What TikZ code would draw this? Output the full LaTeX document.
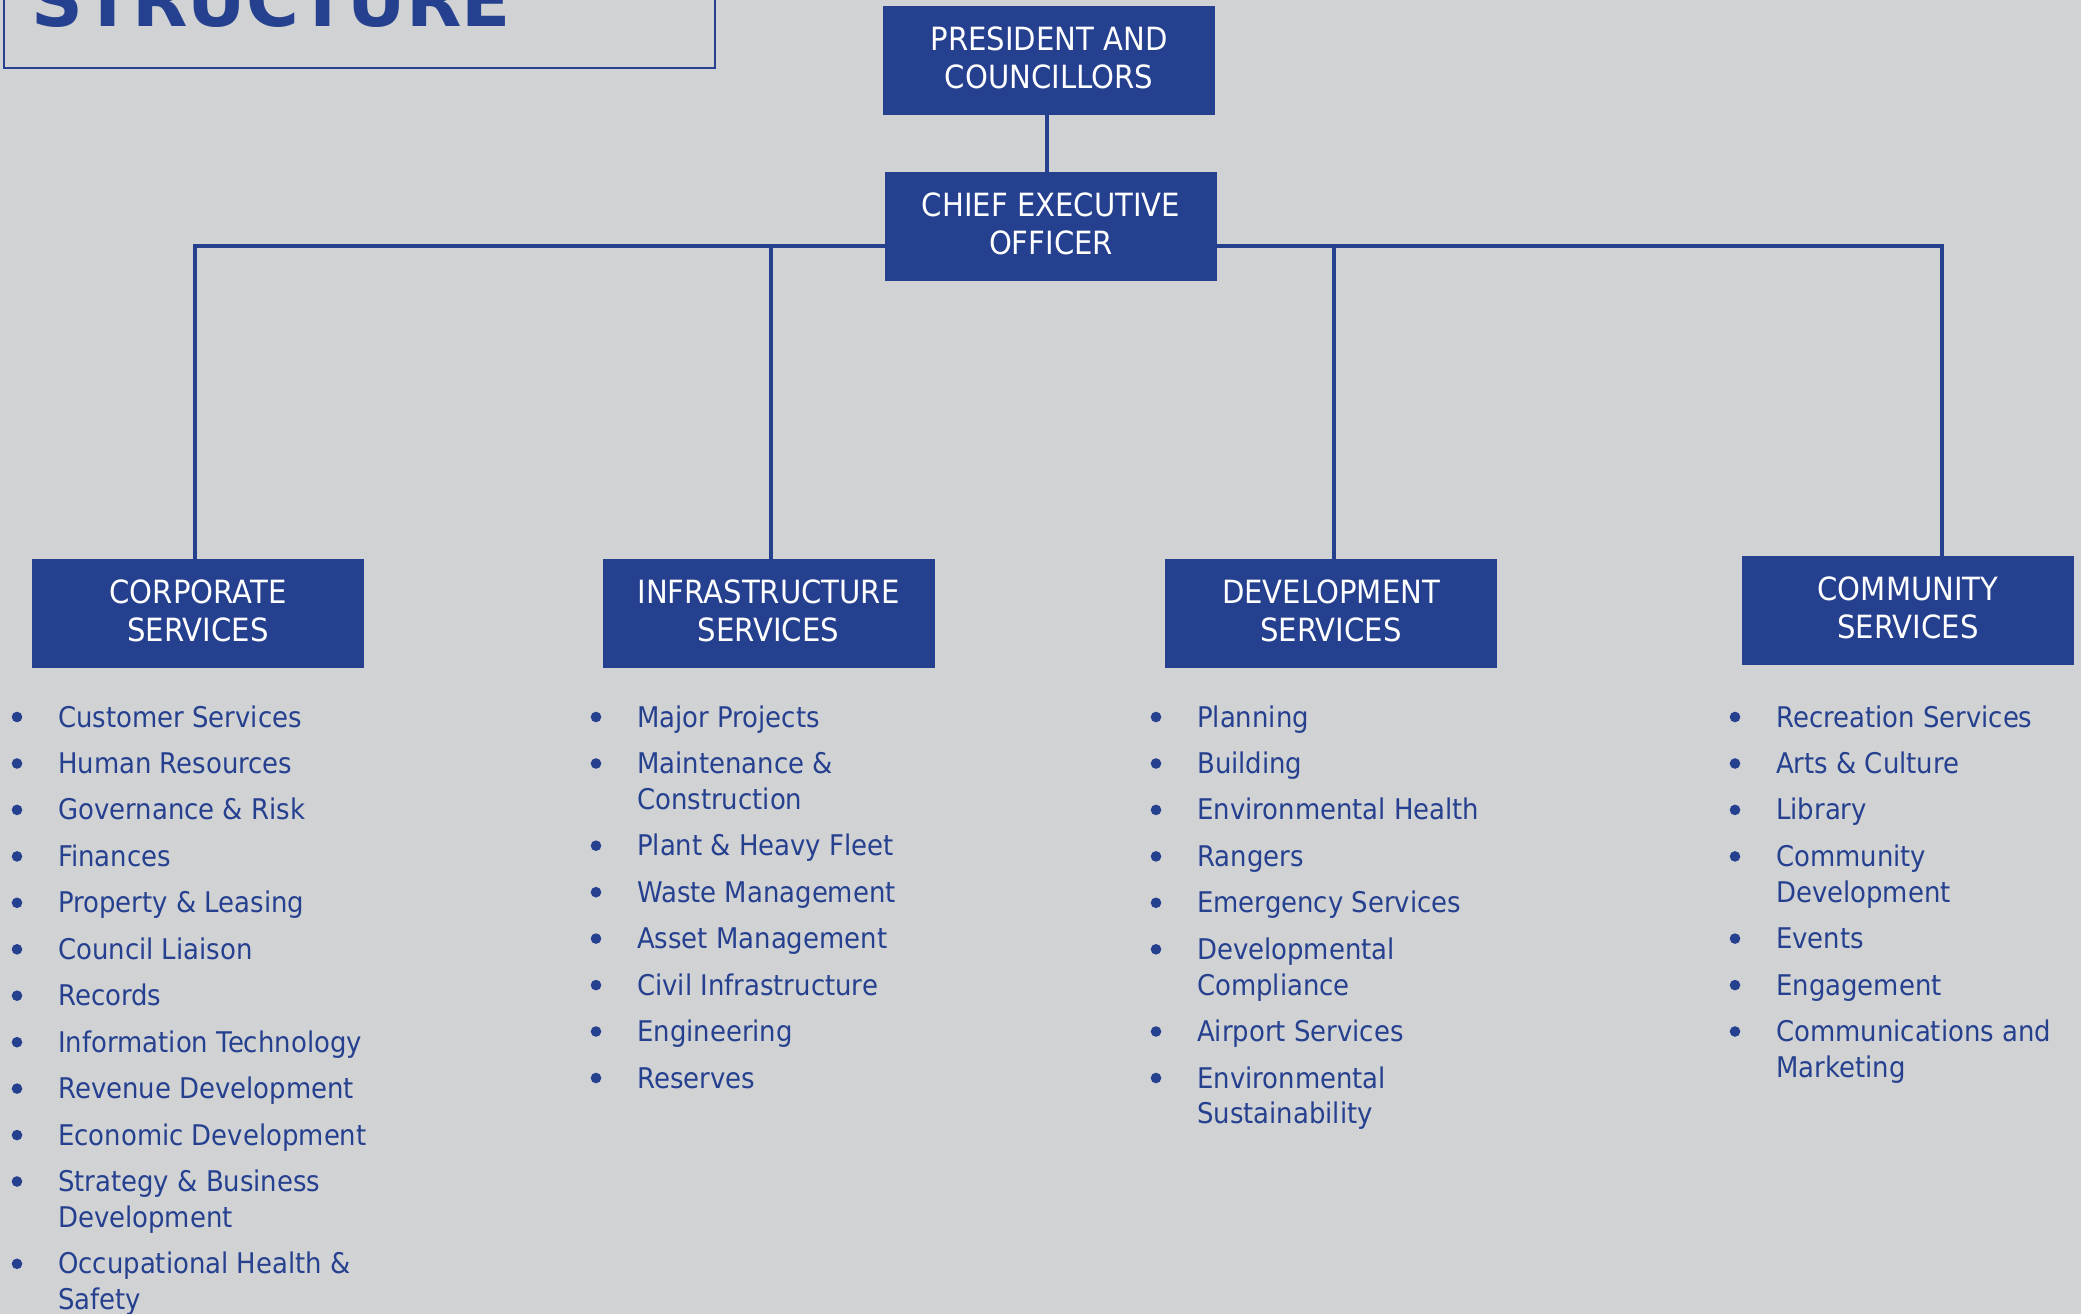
\documentclass[tikz,border=0pt]{standalone}
\usepackage{fontspec}
\setmainfont{DejaVu Sans}[FakeStretch=0.91]
\newfontfamily\titlefont{DejaVu Sans}
\definecolor{cblue}{RGB}{37,64,143}
\definecolor{bgray}{RGB}{209,210,212}
\tikzset{
  orgbox/.style={fill=cblue, text=white, minimum width=332pt, minimum height=109pt,
    inner sep=0pt, align=center, font=\fontsize{32}{38.5}\selectfont},
  conn/.style={draw=cblue, line width=4.5pt},
  itemtext/.style={anchor=base west, inner sep=0pt, text=cblue,
    font=\fontsize{28.5}{35.8}\selectfont},
}
\newcommand\lift{\rule[-6pt]{0pt}{6pt}}
\newcommand\bitem[5]{% bullet x, text x, baseline y, name, text
  \fill[cblue] (#1,#3-10) circle (5.3);
  \node[itemtext] (#4) at (#2,#3) {#5};}
\newcommand\citem[4]{% text x, baseline y, name, text
  \node[itemtext] (#3) at (#1,#2) {#4};}
\begin{document}
\begin{tikzpicture}[x=1pt,y=-1pt]
\useasboundingbox (0,0) rectangle (2081,1314);
\clip (0,0) rectangle (2081,1314);
\fill[bgray] (0,0) rectangle (2081,1314);
% title
\draw[cblue, line width=2.5pt] (4,-30) rectangle (715,68);
\node[anchor=base west, inner sep=0pt, text=cblue,
  font=\titlefont\bfseries\fontsize{72}{80}\selectfont] (title) at (31,27) {STRUCTURE};
% boxes
\node[orgbox] (pres) at (1049,60.5) {PRESIDENT AND\\COUNCILLORS\lift};
\node[orgbox] (ceo) at (1051,226.5) {CHIEF EXECUTIVE\\OFFICER\lift};
\node[orgbox] (corp) at (198,613.5) {CORPORATE\\SERVICES\lift};
\node[orgbox] (infra) at (768.5,613.5) {INFRASTRUCTURE\\SERVICES\lift};
\node[orgbox] (dev) at (1331,613.5) {DEVELOPMENT\\SERVICES\lift};
\node[orgbox] (comm) at (1908,610.5) {COMMUNITY\\SERVICES\lift};
% connectors
\coordinate (busL) at (885,246);
\coordinate (busR) at (1217,246);
\coordinate (corpT) at (195,559);
\coordinate (infraT) at (771,559);
\coordinate (devT) at (1334,559);
\coordinate (commT) at (1942,556);
\draw[conn] (pres.south -| 1047,0) -- (ceo.north -| 1047,0);
\draw[conn] (busL) -| (corpT);
\draw[conn] (busL) -| (infraT);
\draw[conn] (busR) -| (devT);
\draw[conn] (busR) -| (commT);
% corporate list
\bitem{17}{58}{727}{c1}{Customer Services}
\bitem{17}{58}{773.5}{c2}{Human Resources}
\bitem{17}{58}{819.9}{c3}{Governance \& Risk}
\bitem{17}{58}{866.4}{c4}{Finances}
\bitem{17}{58}{912.8}{c5}{Property \& Leasing}
\bitem{17}{58}{959.3}{c6}{Council Liaison}
\bitem{17}{58}{1005.7}{c7}{Records}
\bitem{17}{58}{1052.2}{c8}{Information Technology}
\bitem{17}{58}{1098.6}{c9}{Revenue Development}
\bitem{17}{58}{1145.1}{c10}{Economic Development}
\bitem{17}{58}{1191.5}{c11}{Strategy \& Business}
\citem{58}{1227.3}{c11b}{Development}
\bitem{17}{58}{1273.8}{c12}{Occupational Health \&}
\citem{58}{1309.6}{c12b}{Safety}
% infrastructure list
\bitem{596}{637}{727}{i1}{Major Projects}
\bitem{596}{637}{773.5}{i2}{Maintenance \&}
\citem{637}{809.3}{i2b}{Construction}
\bitem{596}{637}{855.7}{i3}{Plant \& Heavy Fleet}
\bitem{596}{637}{902.2}{i4}{Waste Management}
\bitem{596}{637}{948.6}{i5}{Asset Management}
\bitem{596}{637}{995.1}{i6}{Civil Infrastructure}
\bitem{596}{637}{1041.5}{i7}{Engineering}
\bitem{596}{637}{1088.0}{i8}{Reserves}
% development list
\bitem{1156}{1197}{727}{d1}{Planning}
\bitem{1156}{1197}{773.5}{d2}{Building}
\bitem{1156}{1197}{819.9}{d3}{Environmental Health}
\bitem{1156}{1197}{866.4}{d4}{Rangers}
\bitem{1156}{1197}{912.8}{d5}{Emergency Services}
\bitem{1156}{1197}{959.3}{d6}{Developmental}
\citem{1197}{995.1}{d6b}{Compliance}
\bitem{1156}{1197}{1041.5}{d7}{Airport Services}
\bitem{1156}{1197}{1088.0}{d8}{Environmental}
\citem{1197}{1123.8}{d8b}{Sustainability}
% community list
\bitem{1735}{1776}{727}{m1}{Recreation Services}
\bitem{1735}{1776}{773.5}{m2}{Arts \& Culture}
\bitem{1735}{1776}{819.9}{m3}{Library}
\bitem{1735}{1776}{866.4}{m4}{Community}
\citem{1776}{902.2}{m4b}{Development}
\bitem{1735}{1776}{948.6}{m5}{Events}
\bitem{1735}{1776}{995.1}{m6}{Engagement}
\bitem{1735}{1776}{1041.5}{m7}{Communications and}
\citem{1776}{1077.3}{m7b}{Marketing}
\end{tikzpicture}
\end{document}
